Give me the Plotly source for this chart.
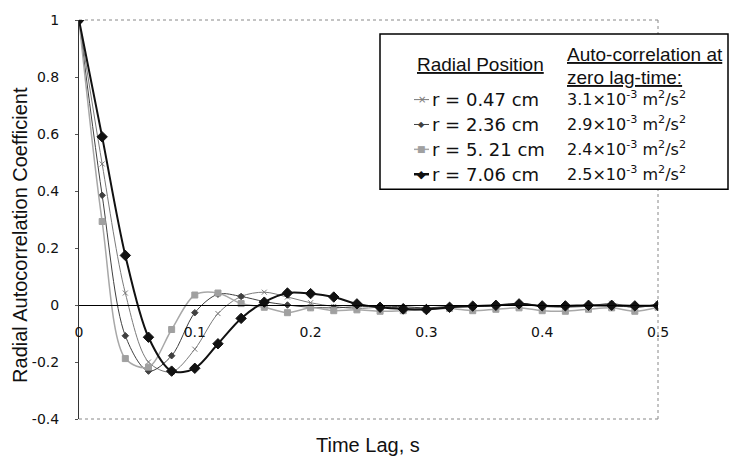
import plotly.graph_objects as go

# ---------------- data ----------------
time_lag = [0.00, 0.02, 0.04, 0.06, 0.08, 0.10, 0.12, 0.14, 0.16, 0.18, 0.20, 0.22, 0.24,
            0.26, 0.28, 0.30, 0.32, 0.34, 0.36, 0.38, 0.40, 0.42, 0.44, 0.46, 0.48, 0.50]

r_047 = [1.0, 0.495, 0.042, -0.200, -0.235, -0.155, -0.030, 0.030, 0.045, 0.028, 0.008, -0.005, -0.012,
         -0.008, -0.010, -0.012, -0.008, -0.005, -0.003, 0.005, -0.005, -0.008, -0.004, 0.006, -0.010, 0.006]
r_236 = [1.0, 0.385, -0.108, -0.232, -0.178, -0.027, 0.038, 0.030, 0.012, 0.000, -0.008, -0.010, -0.006,
         -0.004, -0.006, -0.010, -0.005, -0.006, -0.002, 0.002, -0.004, -0.006, -0.003, -0.004, -0.006, -0.002]
r_521 = [1.0, 0.293, -0.188, -0.218, -0.086, 0.035, 0.042, 0.005, -0.008, -0.027, -0.010, -0.020, -0.017,
         -0.022, -0.020, -0.015, -0.012, -0.020, -0.015, -0.010, -0.020, -0.022, -0.015, -0.010, -0.022, -0.008]
r_706 = [1.0, 0.590, 0.174, -0.113, -0.232, -0.222, -0.136, -0.047, 0.010, 0.042, 0.040, 0.028, 0.004,
         -0.008, -0.014, -0.016, -0.008, -0.004, -0.001, 0.004, -0.003, -0.003, -0.001, -0.001, -0.003, -0.002]

series_labels = ["r = 0.47 cm", "r = 2.36 cm", "r = 5. 21 cm", "r = 7.06 cm"]
zero_lag_values = ["3.1×10<sup>-3</sup> m<sup>2</sup>/s<sup>2</sup>",
                   "2.9×10<sup>-3</sup> m<sup>2</sup>/s<sup>2</sup>",
                   "2.4×10<sup>-3</sup> m<sup>2</sup>/s<sup>2</sup>",
                   "2.5×10<sup>-3</sup> m<sup>2</sup>/s<sup>2</sup>"]

x_ticks = [0, 0.1, 0.2, 0.3, 0.4, 0.5]
x_ticktext = ["0", "0.1", "0.2", "0.3", "0.4", "0.5"]
y_ticks = [-0.4, -0.2, 0, 0.2, 0.4, 0.6, 0.8, 1]
y_ticktext = ["-0.4", "-0.2", "0", "0.2", "0.4", "0.6", "0.8", "1"]

# ---------------- styles ----------------
styles = [
    dict(color="#7a7a7a", width=1.0, symbol="x-thin", msize=5, mcolor="#7a7a7a"),
    dict(color="#404040", width=1.0, symbol="diamond", msize=5, mcolor="#404040"),
    dict(color="#a8a8a8", width=1.5, symbol="square", msize=6, mcolor="#a0a0a0"),
    dict(color="#111111", width=2.0, symbol="diamond", msize=8, mcolor="#111111"),
]
series = [r_047, r_236, r_521, r_706]

fig = go.Figure()
for ys, st, name in zip(series, styles, series_labels):
    fig.add_trace(go.Scatter(
        x=time_lag, y=ys, mode="lines+markers", name=name,
        line=dict(color=st["color"], width=st["width"], shape="spline", smoothing=0.9),
        marker=dict(symbol=st["symbol"], size=st["msize"], color=st["mcolor"],
                    line=dict(color=st["mcolor"], width=1)),
        showlegend=False,
    ))

W, H = 735, 457
L, R, T, B = 79, 77, 18, 38
PW, PH = W - L - R, H - T - B


def px(xp):
    return (xp - L) / PW


def py(yp):
    return (H - B - yp) / PH


def note(text, x, y, font, xanchor="center", **kw):
    fig.add_annotation(text=text, xref="paper", yref="paper", x=px(x), y=py(y),
                       xanchor=xanchor, yanchor="middle", showarrow=False, font=font, **kw)


fig.update_layout(
    width=W, height=H,
    margin=dict(l=L, r=R, t=T, b=B),
    paper_bgcolor="white", plot_bgcolor="white",
    showlegend=False,
    xaxis=dict(range=[0, 0.5], anchor="free", position=0.4 / 1.4,
               showline=True, linecolor="black", linewidth=1,
               tickvals=x_ticks, ticktext=x_ticktext, ticks="",
               ticklabelstandoff=14,
               tickfont=dict(family="DejaVu Sans", size=14, color="#111"),
               showgrid=False, zeroline=False),
    yaxis=dict(range=[-0.4, 1], showline=True, linecolor="#333", linewidth=1,
               tickvals=y_ticks, ticktext=y_ticktext, ticks="outside", ticklen=3,
               tickcolor="#555", ticklabelstandoff=13,
               tickfont=dict(family="DejaVu Sans", size=14, color="#111"),
               showgrid=False, zeroline=False),
)

# dotted plot border (top, right, bottom)
for x0, y0, x1, y1 in [(0, 1, 1, 1), (1, 0, 1, 1), (0, 0, 1, 0)]:
    fig.add_shape(type="line", xref="paper", yref="paper", x0=x0, y0=y0, x1=x1, y1=y1,
                  line=dict(color="#888", width=1, dash="dot"), layer="below")

# axis titles
title_font = dict(family="Liberation Sans", size=20, color="#111")
note("Time Lag, s", 368, 445, title_font)
note("Radial Autocorrelation Coefficient", 20, 234, title_font, textangle=-90)

# legend box
fig.add_shape(type="rect", xref="paper", yref="paper", x0=px(380), x1=px(728), y0=py(188), y1=py(32),
              line=dict(color="black", width=1.5), fillcolor="white", layer="above")

hdr_font = dict(family="Liberation Sans", size=19, color="#111")
note("<u>Radial Position</u>", 480, 63, hdr_font)
note("<u>Auto-correlation at</u>", 565, 53, hdr_font, xanchor="left")
note("<u>zero lag-time:</u>", 565, 76, hdr_font, xanchor="left")

row_y = [98, 123, 148, 173]
glyphs = ["×", "◆", "■", "◆"]
glyph_sizes = [10, 8, 9, 11]
for i, (lab, val, st) in enumerate(zip(series_labels, zero_lag_values, styles)):
    yc = row_y[i]
    fig.add_shape(type="line", xref="paper", yref="paper", x0=px(414), x1=px(429), y0=py(yc), y1=py(yc),
                  line=dict(color=st["color"], width=st["width"] + (0.5 if i == 3 else 0)), layer="above")
    note(glyphs[i], 421.5, yc, dict(family="DejaVu Sans", size=glyph_sizes[i], color=st["mcolor"]))
    note(lab, 430, yc, dict(family="DejaVu Sans", size=18, color="#111"), xanchor="left")
    note(val, 565, yc - 1, dict(family="DejaVu Sans", size=16, color="#111"), xanchor="left")

fig.write_html("out.html")
